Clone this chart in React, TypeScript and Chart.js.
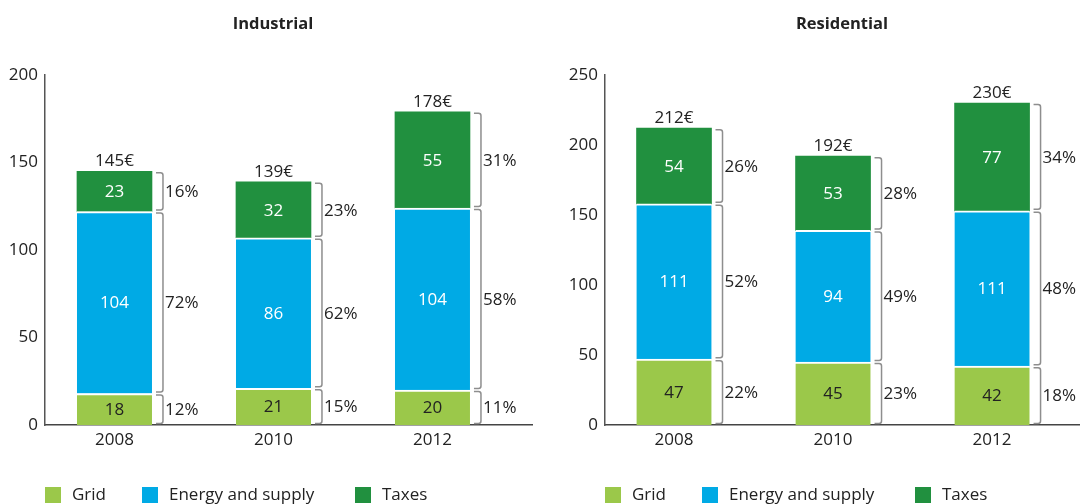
import React, { useEffect, useRef } from "react";
import { Chart, registerables } from "chart.js";

Chart.register(...registerables);

// ---------- data ----------
const years = ["2008", "2010", "2012"];
const seriesNames = ["Grid", "Energy and supply", "Taxes"];
const seriesColors = ["#9bc84a", "#00aae5", "#21903f"];

const industrialGrid = [18, 21, 20];
const industrialEnergy = [104, 86, 104];
const industrialTaxes = [23, 32, 55];
const industrialTotals = [145, 139, 178];
const industrialGridPct = [12, 15, 11];
const industrialEnergyPct = [72, 62, 58];
const industrialTaxesPct = [16, 23, 31];
const industrialTicks = [0, 50, 100, 150, 200];

const residentialGrid = [47, 45, 42];
const residentialEnergy = [111, 94, 111];
const residentialTaxes = [54, 53, 77];
const residentialTotals = [212, 192, 230];
const residentialGridPct = [22, 23, 18];
const residentialEnergyPct = [52, 49, 48];
const residentialTaxesPct = [26, 28, 34];
const residentialTicks = [0, 50, 100, 150, 200, 250];

const FONT = "'Open Sans', 'Noto Sans', sans-serif";
const TEXT = "#222222";
const FS = 17;

type PanelCfg = {
  title: string;
  titleX: number;
  series: number[][];
  pcts: number[][];
  totals: number[];
  ticks: number[];
  axisLeft: number;
  padRight: number;
  xMin: number;
  xMax: number;
};

const W = 540;
const H = 504;
const AXIS_BOTTOM = 425;
const AXIS_TOP = 75;

function Panel({ cfg, left }: { cfg: PanelCfg; left: number }) {
  const ref = useRef<HTMLCanvasElement | null>(null);

  useEffect(() => {
    if (!ref.current) return;
    const overlay = {
      id: "overlay",
      afterDatasetsDraw(chart: any) {
        const ctx = chart.ctx as CanvasRenderingContext2D;
        ctx.save();
        const n = cfg.series.length;
        for (let i = 0; i < n; i++) {
          const meta = chart.getDatasetMeta(i);
          meta.data.forEach((el: any, j: number) => {
            const p = el.getProps(["x", "y", "base", "width"], true);
            const top = Math.min(p.y, p.base);
            const bottom = Math.max(p.y, p.base);
            const mid = (top + bottom) / 2;
            // value label
            ctx.font = `${FS}px ${FONT}`;
            ctx.textAlign = "center";
            ctx.textBaseline = "middle";
            ctx.fillStyle = i === 0 ? TEXT : "#ffffff";
            ctx.fillText(String(cfg.series[i][j]), p.x, mid + 1);
            // bracket
            const r = p.x + p.width / 2;
            const bl = r + 4;
            const br = r + 11;
            const bt = top + 1.5;
            const bb = bottom - 1.5;
            ctx.strokeStyle = "#8e8e8e";
            ctx.lineWidth = 1.5;
            ctx.beginPath();
            ctx.moveTo(bl, bt);
            ctx.arcTo(br, bt, br, bb, 2.5);
            ctx.arcTo(br, bb, bl, bb, 2.5);
            ctx.lineTo(bl, bb);
            ctx.stroke();
            // percent
            ctx.fillStyle = TEXT;
            ctx.textAlign = "left";
            ctx.fillText(cfg.pcts[i][j] + "%", r + 13, mid + 1);
            // total
            if (i === n - 1) {
              ctx.textAlign = "center";
              ctx.textBaseline = "alphabetic";
              ctx.fillText(cfg.totals[j] + "€", p.x, top - 5);
            }
          });
        }
        // title
        ctx.font = `bold 16.5px ${FONT}`;
        ctx.textAlign = "center";
        ctx.textBaseline = "middle";
        ctx.fillStyle = TEXT;
        ctx.fillText(cfg.title, cfg.titleX, 24);
        // legend
        const offs = [0, 97, 310];
        ctx.font = `${FS}px ${FONT}`;
        ctx.textAlign = "left";
        seriesNames.forEach((name, k) => {
          const sx = cfg.axisLeft + offs[k];
          ctx.fillStyle = seriesColors[k];
          ctx.fillRect(sx, 487, 16, 16);
          ctx.fillStyle = TEXT;
          ctx.fillText(name, sx + 27, 495);
        });
        ctx.restore();
      },
    };

    const chart = new Chart(ref.current, {
      type: "bar",
      data: {
        datasets: cfg.series.map((vals, i) => ({
          label: seriesNames[i],
          data: vals.map((v, j) => ({ x: j, y: v })),
          backgroundColor: seriesColors[i],
          borderColor: "#ffffff",
          borderWidth: i < cfg.series.length - 1 ? { top: 2, bottom: 0, left: 0, right: 0 } : 0,
          borderSkipped: false,
          barThickness: 75,
        })),
      },
      options: {
        animation: false,
        responsive: false,
        layout: {
          padding: { top: AXIS_TOP, right: cfg.padRight, bottom: 0, left: 0 },
        },
        plugins: {
          legend: { display: false },
          tooltip: { enabled: false },
          title: { display: false },
        },
        scales: {
          x: {
            type: "linear",
            stacked: true,
            offset: false,
            min: cfg.xMin,
            max: cfg.xMax,
            grid: { display: false, drawTicks: false, offset: false },
            border: { display: true, color: "#444444", width: 1.5 },
            afterBuildTicks: (scale: any) => {
              scale.ticks = years.map((_, i) => ({ value: i }));
            },
            afterFit: (scale: any) => {
              scale.height = H - AXIS_BOTTOM;
            },
            ticks: {
              autoSkip: false,
              maxRotation: 0,
              padding: 5,
              color: TEXT,
              font: { family: FONT, size: FS },
              callback: (v: any) => years[v] ?? "",
            },
          },
          y: {
            type: "linear",
            stacked: true,
            min: 0,
            max: cfg.ticks[cfg.ticks.length - 1],
            grid: { display: false, drawTicks: false },
            border: { display: true, color: "#555555", width: 1.5 },
            afterBuildTicks: (scale: any) => {
              scale.ticks = cfg.ticks.map((v) => ({ value: v }));
            },
            afterFit: (scale: any) => {
              scale.width = cfg.axisLeft;
            },
            ticks: {
              padding: 7,
              color: TEXT,
              font: { family: FONT, size: FS },
            },
          },
        },
      },
      plugins: [overlay],
    } as any);
    return () => chart.destroy();
  }, [cfg]);

  return (
    <canvas
      ref={ref}
      width={W}
      height={H}
      style={{ position: "absolute", left, top: 0, width: W, height: H, display: "block" }}
    />
  );
}

const industrialCfg: PanelCfg = {
  title: "Industrial",
  titleX: 273,
  series: [industrialGrid, industrialEnergy, industrialTaxes],
  pcts: [industrialGridPct, industrialEnergyPct, industrialTaxesPct],
  totals: industrialTotals,
  ticks: industrialTicks,
  axisLeft: 45,
  padRight: 8,
  xMin: -0.437,
  xMax: 2.626,
};

const residentialCfg: PanelCfg = {
  title: "Residential",
  titleX: 302,
  series: [residentialGrid, residentialEnergy, residentialTaxes],
  pcts: [residentialGridPct, residentialEnergyPct, residentialTaxesPct],
  totals: residentialTotals,
  ticks: residentialTicks,
  axisLeft: 65,
  padRight: 0,
  xMin: -0.434,
  xMax: 2.553,
};

export default function App() {
  return (
    <div
      style={{
        position: "fixed",
        left: 0,
        top: 0,
        width: 1080,
        height: 504,
        background: "#ffffff",
        overflow: "hidden",
      }}
    >
      <Panel cfg={industrialCfg} left={0} />
      <Panel cfg={residentialCfg} left={540} />
    </div>
  );
}
